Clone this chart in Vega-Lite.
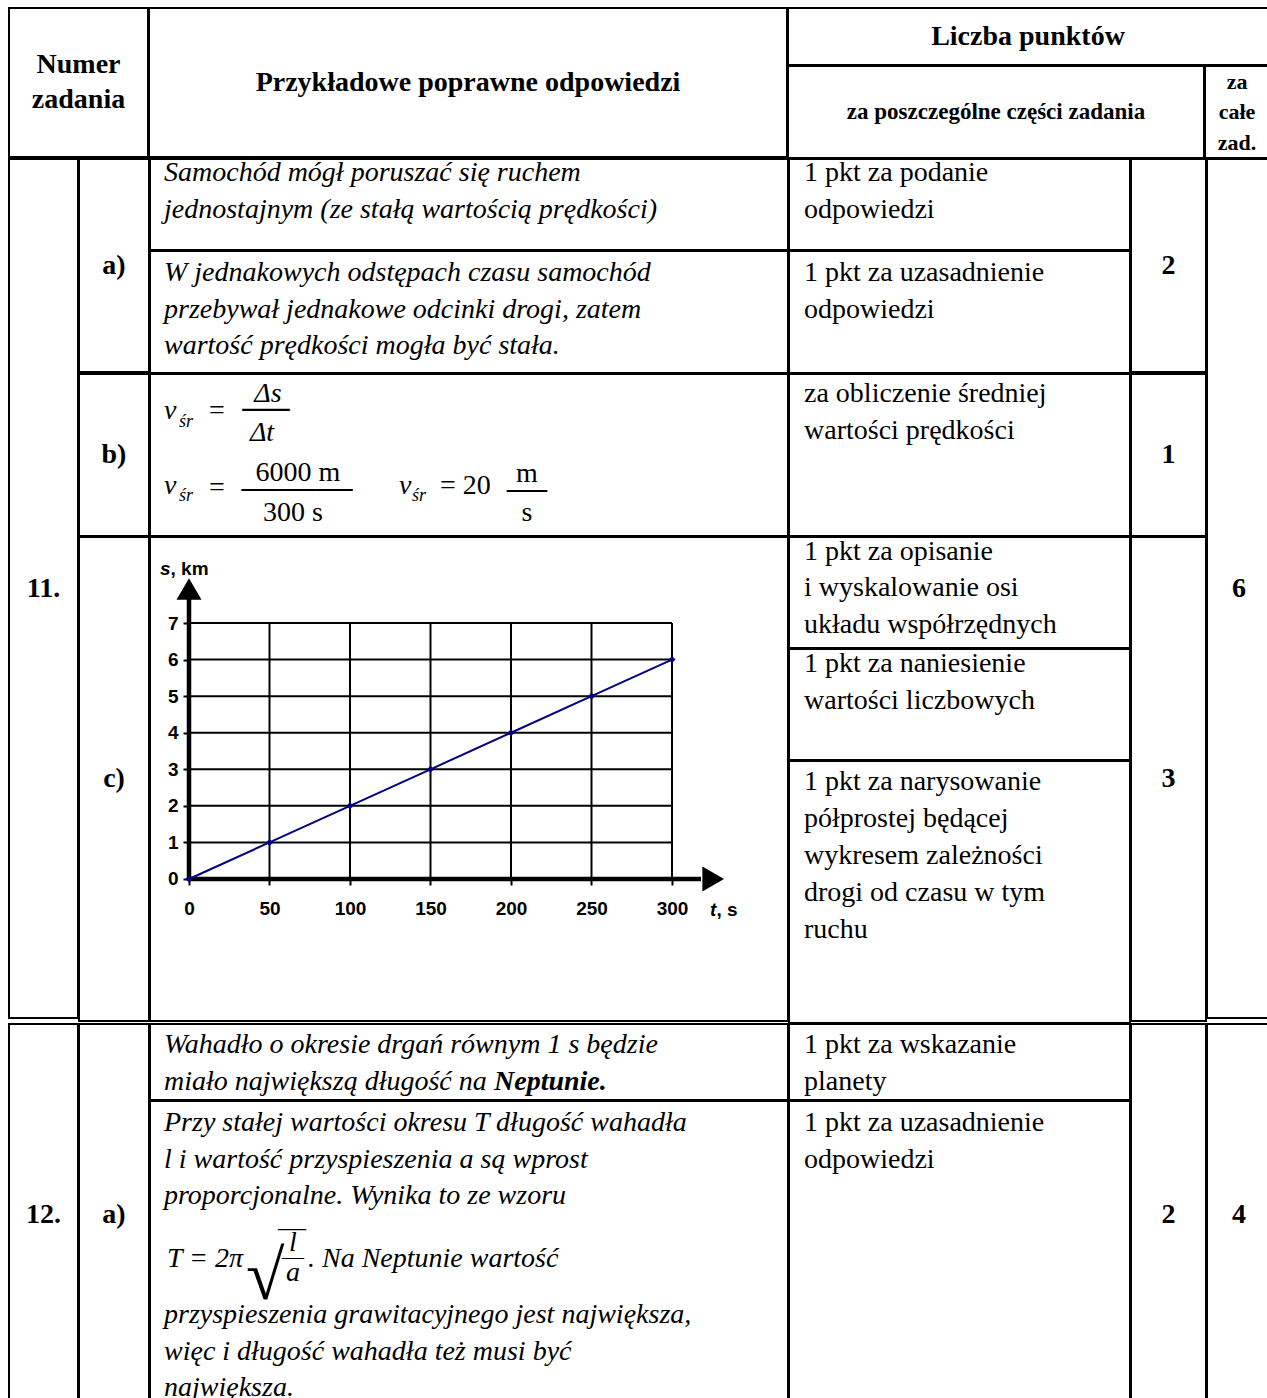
{
"$schema":"https://vega.github.io/schema/vega-lite/v6.json",
"padding":{"left":8,"top":7,"right":0,"bottom":0},
"background":"white",
"config":{
 "view":{"stroke":"black","strokeWidth":2},
 "style":{"view":{"stroke":"black","strokeWidth":2}},
 "concat":{"spacing":-2},
 "axis":{"domain":false,"grid":false,"tickSize":6,"tickWidth":2,"tickColor":"black","labelFont":"Liberation Sans","labelFontSize":19,"labelFontWeight":"bold","labelColor":"black"},
 "axisX":{"offset":-142,"labelPadding":14,"labelFlush":false},
 "axisY":{"offset":-39,"labelPadding":5},
 "text":{"font":"Liberation Serif","fontSize":28,"lineHeight":36.5,"lineBreak":"\n","color":"black"}
},
"datasets":{
 "cells":[
  {"id":"h_num","txt":"Numer\nzadania"},
  {"id":"h_ans","txt":"Przykładowe poprawne odpowiedzi"},
  {"id":"h_lp","txt":"Liczba punktów"},
  {"id":"h_zp","txt":"za poszczególne części zadania"},
  {"id":"h_zc","txt":"za\ncałe\nzad."},
  {"id":"n11","txt":"11."},
  {"id":"a11","txt":"a)"},
  {"id":"a1_ans","txt":"Samochód mógł poruszać się ruchem\njednostajnym (ze stałą wartością prędkości)"},
  {"id":"a1_pts","txt":"1 pkt za podanie\nodpowiedzi"},
  {"id":"a2_ans","txt":"W jednakowych odstępach czasu samochód\nprzebywał jednakowe odcinki drogi, zatem\nwartość prędkości mogła być stała."},
  {"id":"a2_pts","txt":"1 pkt za uzasadnienie\nodpowiedzi"},
  {"id":"p_a","txt":"2"},
  {"id":"b11","txt":"b)"},
  {"id":"b_pts","txt":"za obliczenie średniej\nwartości prędkości"},
  {"id":"p_b","txt":"1"},
  {"id":"c11","txt":"c)"},
  {"id":"c1_pts","txt":"1 pkt za opisanie\ni wyskalowanie osi\nukładu współrzędnych"},
  {"id":"c2_pts","txt":"1 pkt za naniesienie\nwartości liczbowych"},
  {"id":"c3_pts","txt":"1 pkt za narysowanie\npółprostej będącej\nwykresem zależności\ndrogi od czasu w tym\nruchu"},
  {"id":"p_c","txt":"3"},
  {"id":"p11","txt":"6"},
  {"id":"n12","txt":"12."},
  {"id":"a12","txt":"a)"},
  {"id":"d1_ans","txt":"Wahadło o okresie drgań równym 1 s będzie\nmiało największą długość na"},
  {"id":"d1_bold","txt":"Neptunie."},
  {"id":"d1_pts","txt":"1 pkt za wskazanie\nplanety"},
  {"id":"d2_ans1","txt":"Przy stałej wartości okresu T długość wahadła\nl i wartość przyspieszenia  a są wprost\nproporcjonalne. Wynika to ze wzoru"},
  {"id":"d2_ans2","txt":"przyspieszenia grawitacyjnego jest największa,\nwięc i długość wahadła też musi być\nnajwiększa."},
  {"id":"d2_pts","txt":"1 pkt za uzasadnienie\nodpowiedzi"},
  {"id":"p_d","txt":"2"},
  {"id":"p12","txt":"4"},
  {"id":"fb_v1","txt":"v"},
  {"id":"fb_sr1","txt":"śr"},
  {"id":"fb_eq1","txt":"="},
  {"id":"fb_ds","txt":"Δs"},
  {"id":"fb_bar1","txt":"—"},
  {"id":"fb_dt","txt":"Δt"},
  {"id":"fb_v2","txt":"v"},
  {"id":"fb_sr2","txt":"śr"},
  {"id":"fb_eq2","txt":"="},
  {"id":"fb_6000","txt":"6000 m"},
  {"id":"fb_bar2","txt":"———"},
  {"id":"fb_300","txt":"300 s"},
  {"id":"fb_v3","txt":"v"},
  {"id":"fb_sr3","txt":"śr"},
  {"id":"fb_eq3","txt":"= 20"},
  {"id":"fb_m","txt":"m"},
  {"id":"fb_bar3","txt":"—"},
  {"id":"fb_s","txt":"s"},
  {"id":"fd_T","txt":"T = 2π"},
  {"id":"fd_root","txt":"√"},
  {"id":"fd_over","txt":"—"},
  {"id":"fd_l","txt":"l"},
  {"id":"fd_bar","txt":"—"},
  {"id":"fd_a","txt":"a"},
  {"id":"fd_rest","txt":". Na Neptunie wartość"},
  {"id":"g_s","txt":"s"},
  {"id":"g_km","txt":", km"},
  {"id":"g_t","txt":"t"},
  {"id":"g_ts","txt":", s"}
 ],
 "pts":[{"t":0,"s":0},{"t":50,"s":1},{"t":100,"s":2},{"t":150,"s":3},{"t":200,"s":4},{"t":250,"s":5},{"t":300,"s":6}],
 "vgrid":[{"t":50},{"t":100},{"t":150},{"t":200},{"t":250},{"t":300}],
 "hgrid":[{"s":1},{"s":2},{"s":3},{"s":4},{"s":5},{"s":6},{"s":7}]
},
"spacing":-2,
"vconcat":[
 {"spacing":-2,"hconcat":[
  {"width":139,"height":149,"data":{"name":"cells"},"transform":[{"filter":"datum.id==='h_num'"}],"mark":{"type":"text","fontWeight":"bold","align":"center","baseline":"middle","lineHeight":35,"dy":-17.5},"encoding":{"text":{"field":"txt","type":"nominal"}}},
  {"width":638,"height":149,"data":{"name":"cells"},"transform":[{"filter":"datum.id==='h_ans'"}],"mark":{"type":"text","fontWeight":"bold","align":"center","baseline":"middle"},"encoding":{"text":{"field":"txt","type":"nominal"}}},
  {"spacing":-2,"vconcat":[
   {"width":480,"height":57,"data":{"name":"cells"},"transform":[{"filter":"datum.id==='h_lp'"}],"mark":{"type":"text","fontWeight":"bold","align":"center","baseline":"middle"},"encoding":{"text":{"field":"txt","type":"nominal"}}},
   {"spacing":-2,"hconcat":[
    {"width":416,"height":92,"data":{"name":"cells"},"transform":[{"filter":"datum.id==='h_zp'"}],"mark":{"type":"text","fontWeight":"bold","fontSize":23,"align":"center","baseline":"middle"},"encoding":{"text":{"field":"txt","type":"nominal"}}},
    {"width":64,"height":92,"data":{"name":"cells"},"transform":[{"filter":"datum.id==='h_zc'"}],"mark":{"type":"text","fontWeight":"bold","fontSize":22,"lineHeight":30.5,"align":"center","baseline":"middle","dy":-30.5},"encoding":{"text":{"field":"txt","type":"nominal"}}}
   ]}
  ]}
 ]},
 {"spacing":-2,"hconcat":[
  {"width":69,"height":859,"data":{"name":"cells"},"transform":[{"filter":"datum.id==='n11'"}],"mark":{"type":"text","fontWeight":"bold","align":"center","baseline":"middle"},"encoding":{"text":{"field":"txt","type":"nominal"}}},
  {"spacing":-2,"vconcat":[
   {"spacing":-2,"hconcat":[
    {"width":70,"height":213,"data":{"name":"cells"},"transform":[{"filter":"datum.id==='a11'"}],"mark":{"type":"text","fontWeight":"bold","align":"center","baseline":"middle"},"encoding":{"text":{"field":"txt","type":"nominal"}}},
    {"spacing":-2,"vconcat":[
     {"spacing":-2,"hconcat":[
      {"width":638,"height":91,"data":{"name":"cells"},"transform":[{"filter":"datum.id==='a1_ans'"}],"mark":{"type":"text","fontStyle":"italic","align":"left","baseline":"alphabetic","dx":-305,"dy":-23.5},"encoding":{"text":{"field":"txt","type":"nominal"}}},
      {"width":341,"height":91,"data":{"name":"cells"},"transform":[{"filter":"datum.id==='a1_pts'"}],"mark":{"type":"text","align":"left","baseline":"alphabetic","dx":-155.5,"dy":-23.5},"encoding":{"text":{"field":"txt","type":"nominal"}}}
     ]},
     {"spacing":-2,"hconcat":[
      {"width":638,"height":122,"data":{"name":"cells"},"transform":[{"filter":"datum.id==='a2_ans'"}],"mark":{"type":"text","fontStyle":"italic","align":"left","baseline":"alphabetic","dx":-305,"dy":-31},"encoding":{"text":{"field":"txt","type":"nominal"}}},
      {"width":341,"height":122,"data":{"name":"cells"},"transform":[{"filter":"datum.id==='a2_pts'"}],"mark":{"type":"text","align":"left","baseline":"alphabetic","dx":-155.5,"dy":-31},"encoding":{"text":{"field":"txt","type":"nominal"}}}
     ]}
    ]},
    {"width":75,"height":213,"data":{"name":"cells"},"transform":[{"filter":"datum.id==='p_a'"}],"mark":{"type":"text","fontWeight":"bold","align":"center","baseline":"middle"},"encoding":{"text":{"field":"txt","type":"nominal"}}}
   ]},
   {"spacing":-2,"hconcat":[
    {"width":70,"height":162,"data":{"name":"cells"},"transform":[{"filter":"datum.id==='b11'"}],"mark":{"type":"text","fontWeight":"bold","align":"center","baseline":"middle"},"encoding":{"text":{"field":"txt","type":"nominal"}}},
    {"width":638,"height":162,"data":{"name":"cells"},"layer":[
     {"transform":[{"filter":"datum.id==='fb_v1'"}],"mark":{"type":"text","fontStyle":"italic","align":"left","baseline":"alphabetic","dx":-305,"dy":-36},"encoding":{"text":{"field":"txt","type":"nominal"}}},
     {"transform":[{"filter":"datum.id==='fb_sr1'"}],"mark":{"type":"text","fontStyle":"italic","fontSize":18,"align":"left","baseline":"alphabetic","dx":-290,"dy":-28},"encoding":{"text":{"field":"txt","type":"nominal"}}},
     {"transform":[{"filter":"datum.id==='fb_eq1'"}],"mark":{"type":"text","align":"center","baseline":"alphabetic","dx":-252,"dy":-36},"encoding":{"text":{"field":"txt","type":"nominal"}}},
     {"transform":[{"filter":"datum.id==='fb_ds'"}],"mark":{"type":"text","fontStyle":"italic","align":"center","baseline":"alphabetic","dx":-201,"dy":-53},"encoding":{"text":{"field":"txt","type":"nominal"}}},
     {"transform":[{"filter":"datum.id==='fb_bar1'"}],"mark":{"type":"text","fontSize":47,"align":"center","baseline":"alphabetic","dx":-203,"dy":-34},"encoding":{"text":{"field":"txt","type":"nominal"}}},
     {"transform":[{"filter":"datum.id==='fb_dt'"}],"mark":{"type":"text","fontStyle":"italic","align":"center","baseline":"alphabetic","dx":-207,"dy":-14},"encoding":{"text":{"field":"txt","type":"nominal"}}},
     {"transform":[{"filter":"datum.id==='fb_v2'"}],"mark":{"type":"text","fontStyle":"italic","align":"left","baseline":"alphabetic","dx":-305,"dy":39},"encoding":{"text":{"field":"txt","type":"nominal"}}},
     {"transform":[{"filter":"datum.id==='fb_sr2'"}],"mark":{"type":"text","fontStyle":"italic","fontSize":18,"align":"left","baseline":"alphabetic","dx":-290,"dy":46},"encoding":{"text":{"field":"txt","type":"nominal"}}},
     {"transform":[{"filter":"datum.id==='fb_eq2'"}],"mark":{"type":"text","align":"center","baseline":"alphabetic","dx":-252,"dy":41},"encoding":{"text":{"field":"txt","type":"nominal"}}},
     {"transform":[{"filter":"datum.id==='fb_6000'"}],"mark":{"type":"text","align":"center","baseline":"alphabetic","dx":-171,"dy":26},"encoding":{"text":{"field":"txt","type":"nominal"}}},
     {"transform":[{"filter":"datum.id==='fb_bar2'"}],"mark":{"type":"text","fontSize":37,"align":"center","baseline":"alphabetic","dx":-172,"dy":44},"encoding":{"text":{"field":"txt","type":"nominal"}}},
     {"transform":[{"filter":"datum.id==='fb_300'"}],"mark":{"type":"text","align":"center","baseline":"alphabetic","dx":-176,"dy":66},"encoding":{"text":{"field":"txt","type":"nominal"}}},
     {"transform":[{"filter":"datum.id==='fb_v3'"}],"mark":{"type":"text","fontStyle":"italic","align":"left","baseline":"alphabetic","dx":-70,"dy":39},"encoding":{"text":{"field":"txt","type":"nominal"}}},
     {"transform":[{"filter":"datum.id==='fb_sr3'"}],"mark":{"type":"text","fontStyle":"italic","fontSize":18,"align":"left","baseline":"alphabetic","dx":-57,"dy":46},"encoding":{"text":{"field":"txt","type":"nominal"}}},
     {"transform":[{"filter":"datum.id==='fb_eq3'"}],"mark":{"type":"text","align":"left","baseline":"alphabetic","dx":-29,"dy":39},"encoding":{"text":{"field":"txt","type":"nominal"}}},
     {"transform":[{"filter":"datum.id==='fb_m'"}],"mark":{"type":"text","align":"center","baseline":"alphabetic","dx":58,"dy":27},"encoding":{"text":{"field":"txt","type":"nominal"}}},
     {"transform":[{"filter":"datum.id==='fb_bar3'"}],"mark":{"type":"text","fontSize":40,"align":"center","baseline":"alphabetic","dx":58,"dy":45},"encoding":{"text":{"field":"txt","type":"nominal"}}},
     {"transform":[{"filter":"datum.id==='fb_s'"}],"mark":{"type":"text","align":"center","baseline":"alphabetic","dx":58,"dy":66},"encoding":{"text":{"field":"txt","type":"nominal"}}}
    ]},
    {"width":341,"height":162,"data":{"name":"cells"},"transform":[{"filter":"datum.id==='b_pts'"}],"mark":{"type":"text","align":"left","baseline":"alphabetic","dx":-155.5,"dy":-53},"encoding":{"text":{"field":"txt","type":"nominal"}}},
    {"width":75,"height":162,"data":{"name":"cells"},"transform":[{"filter":"datum.id==='p_b'"}],"mark":{"type":"text","fontWeight":"bold","align":"center","baseline":"middle"},"encoding":{"text":{"field":"txt","type":"nominal"}}}
   ]},
   {"spacing":-2,"hconcat":[
    {"width":70,"height":484,"data":{"name":"cells"},"transform":[{"filter":"datum.id==='c11'"}],"mark":{"type":"text","fontWeight":"bold","align":"center","baseline":"middle"},"encoding":{"text":{"field":"txt","type":"nominal"}}},
    {"width":638,"height":484,"layer":[
     {"data":{"name":"vgrid"},"mark":{"type":"rule","color":"black","strokeWidth":2},"encoding":{
       "x":{"field":"t","type":"quantitative","scale":{"domain":[-24.22,372.05],"nice":false,"zero":false},"axis":{"title":null,"values":[0,50,100,150,200,250,300]}},
       "y":{"datum":0,"type":"quantitative","scale":{"domain":[-3.883,9.352],"nice":false,"zero":false},"axis":{"title":null,"values":[0,1,2,3,4,5,6,7]}},
       "y2":{"datum":7}}},
     {"data":{"name":"hgrid"},"mark":{"type":"rule","color":"black","strokeWidth":2},"encoding":{
       "y":{"field":"s","type":"quantitative","scale":{"domain":[-3.883,9.352],"nice":false,"zero":false},"axis":{"title":null,"values":[0,1,2,3,4,5,6,7]}},
       "x":{"datum":0,"type":"quantitative","scale":{"domain":[-24.22,372.05],"nice":false,"zero":false},"axis":{"title":null,"values":[0,50,100,150,200,250,300]}},
       "x2":{"datum":300}}},
     {"data":{"name":"pts"},"transform":[{"filter":"datum.t===0"}],"mark":{"type":"rule","color":"black","strokeWidth":4.5},"encoding":{
       "x":{"field":"t","type":"quantitative","scale":{"domain":[-24.22,372.05],"nice":false,"zero":false},"axis":{"title":null,"values":[0,50,100,150,200,250,300]}},
       "x2":{"datum":318},
       "y":{"field":"s","type":"quantitative","scale":{"domain":[-3.883,9.352],"nice":false,"zero":false},"axis":{"title":null,"values":[0,1,2,3,4,5,6,7]}}}},
     {"data":{"name":"pts"},"transform":[{"filter":"datum.t===0"}],"mark":{"type":"rule","color":"black","strokeWidth":4.5},"encoding":{
       "x":{"field":"t","type":"quantitative","scale":{"domain":[-24.22,372.05],"nice":false,"zero":false},"axis":{"title":null,"values":[0,50,100,150,200,250,300]}},
       "y":{"field":"s","type":"quantitative","scale":{"domain":[-3.883,9.352],"nice":false,"zero":false},"axis":{"title":null,"values":[0,1,2,3,4,5,6,7]}},
       "y2":{"datum":7.7}}},
     {"data":{"name":"pts"},"transform":[{"filter":"datum.t===0"}],"mark":{"type":"point","shape":"triangle-right","size":625,"filled":true,"color":"black","opacity":1,"strokeWidth":0},"encoding":{
       "x":{"datum":325.6,"type":"quantitative","scale":{"domain":[-24.22,372.05],"nice":false,"zero":false},"axis":{"title":null,"values":[0,50,100,150,200,250,300]}},
       "y":{"field":"s","type":"quantitative","scale":{"domain":[-3.883,9.352],"nice":false,"zero":false},"axis":{"title":null,"values":[0,1,2,3,4,5,6,7]}}}},
     {"data":{"name":"pts"},"transform":[{"filter":"datum.t===0"}],"mark":{"type":"point","shape":"triangle-up","size":625,"filled":true,"color":"black","opacity":1,"strokeWidth":0},"encoding":{
       "x":{"field":"t","type":"quantitative","scale":{"domain":[-24.22,372.05],"nice":false,"zero":false},"axis":{"title":null,"values":[0,50,100,150,200,250,300]}},
       "y":{"datum":7.93,"type":"quantitative","scale":{"domain":[-3.883,9.352],"nice":false,"zero":false},"axis":{"title":null,"values":[0,1,2,3,4,5,6,7]}}}},
     {"data":{"name":"pts"},"mark":{"type":"line","color":"#000080","strokeWidth":2},"encoding":{
       "x":{"field":"t","type":"quantitative","scale":{"domain":[-24.22,372.05],"nice":false,"zero":false},"axis":{"title":null,"values":[0,50,100,150,200,250,300]}},
       "y":{"field":"s","type":"quantitative","scale":{"domain":[-3.883,9.352],"nice":false,"zero":false},"axis":{"title":null,"values":[0,1,2,3,4,5,6,7]}}}},
     {"data":{"name":"pts"},"mark":{"type":"point","shape":"diamond","size":50,"filled":true,"color":"#000080","opacity":1},"encoding":{
       "x":{"field":"t","type":"quantitative","scale":{"domain":[-24.22,372.05],"nice":false,"zero":false},"axis":{"title":null,"values":[0,50,100,150,200,250,300]}},
       "y":{"field":"s","type":"quantitative","scale":{"domain":[-3.883,9.352],"nice":false,"zero":false},"axis":{"title":null,"values":[0,1,2,3,4,5,6,7]}}}},
     {"data":{"name":"cells"},"transform":[{"filter":"datum.id==='g_s'"}],"mark":{"type":"text","font":"Liberation Sans","fontSize":19,"fontWeight":"bold","fontStyle":"italic","align":"left","baseline":"middle"},"encoding":{
       "x":{"datum":-18,"type":"quantitative","scale":{"domain":[-24.22,372.05],"nice":false,"zero":false},"axis":{"title":null,"values":[0,50,100,150,200,250,300]}},
       "y":{"datum":8.48,"type":"quantitative","scale":{"domain":[-3.883,9.352],"nice":false,"zero":false},"axis":{"title":null,"values":[0,1,2,3,4,5,6,7]}},
       "text":{"field":"txt","type":"nominal"}}},
     {"data":{"name":"cells"},"transform":[{"filter":"datum.id==='g_km'"}],"mark":{"type":"text","font":"Liberation Sans","fontSize":19,"fontWeight":"bold","align":"left","baseline":"middle","dx":10.5},"encoding":{
       "x":{"datum":-18,"type":"quantitative","scale":{"domain":[-24.22,372.05],"nice":false,"zero":false},"axis":{"title":null,"values":[0,50,100,150,200,250,300]}},
       "y":{"datum":8.48,"type":"quantitative","scale":{"domain":[-3.883,9.352],"nice":false,"zero":false},"axis":{"title":null,"values":[0,1,2,3,4,5,6,7]}},
       "text":{"field":"txt","type":"nominal"}}},
     {"data":{"name":"cells"},"transform":[{"filter":"datum.id==='g_t'"}],"mark":{"type":"text","font":"Liberation Sans","fontSize":19,"fontWeight":"bold","fontStyle":"italic","align":"left","baseline":"middle"},"encoding":{
       "x":{"datum":323.6,"type":"quantitative","scale":{"domain":[-24.22,372.05],"nice":false,"zero":false},"axis":{"title":null,"values":[0,50,100,150,200,250,300]}},
       "y":{"datum":-0.848,"type":"quantitative","scale":{"domain":[-3.883,9.352],"nice":false,"zero":false},"axis":{"title":null,"values":[0,1,2,3,4,5,6,7]}},
       "text":{"field":"txt","type":"nominal"}}},
     {"data":{"name":"cells"},"transform":[{"filter":"datum.id==='g_ts'"}],"mark":{"type":"text","font":"Liberation Sans","fontSize":19,"fontWeight":"bold","align":"left","baseline":"middle","dx":6.5},"encoding":{
       "x":{"datum":323.6,"type":"quantitative","scale":{"domain":[-24.22,372.05],"nice":false,"zero":false},"axis":{"title":null,"values":[0,50,100,150,200,250,300]}},
       "y":{"datum":-0.848,"type":"quantitative","scale":{"domain":[-3.883,9.352],"nice":false,"zero":false},"axis":{"title":null,"values":[0,1,2,3,4,5,6,7]}},
       "text":{"field":"txt","type":"nominal"}}}
    ]},
    {"spacing":-2,"vconcat":[
     {"width":341,"height":111,"data":{"name":"cells"},"transform":[{"filter":"datum.id==='c1_pts'"}],"mark":{"type":"text","align":"left","baseline":"alphabetic","dx":-155.5,"dy":-33},"encoding":{"text":{"field":"txt","type":"nominal"}}},
     {"width":341,"height":111,"data":{"name":"cells"},"transform":[{"filter":"datum.id==='c2_pts'"}],"mark":{"type":"text","align":"left","baseline":"alphabetic","dx":-155.5,"dy":-32.5},"encoding":{"text":{"field":"txt","type":"nominal"}}},
     {"width":341,"height":262,"data":{"name":"cells"},"transform":[{"filter":"datum.id==='c3_pts'"}],"mark":{"type":"text","align":"left","baseline":"alphabetic","dx":-155.5,"dy":-102,"lineHeight":37},"encoding":{"text":{"field":"txt","type":"nominal"}}}
    ]},
    {"width":75,"height":484,"data":{"name":"cells"},"transform":[{"filter":"datum.id==='p_c'"}],"mark":{"type":"text","fontWeight":"bold","align":"center","baseline":"middle"},"encoding":{"text":{"field":"txt","type":"nominal"}}}
   ]}
  ]},
  {"width":64,"height":859,"data":{"name":"cells"},"transform":[{"filter":"datum.id==='p11'"}],"mark":{"type":"text","fontWeight":"bold","align":"center","baseline":"middle"},"encoding":{"text":{"field":"txt","type":"nominal"}}}
 ]},
 {"spacing":-2,"hconcat":[
  {"width":69,"height":381,"data":{"name":"cells"},"transform":[{"filter":"datum.id==='n12'"}],"mark":{"type":"text","fontWeight":"bold","align":"center","baseline":"middle"},"encoding":{"text":{"field":"txt","type":"nominal"}}},
  {"width":70,"height":381,"data":{"name":"cells"},"transform":[{"filter":"datum.id==='a12'"}],"mark":{"type":"text","fontWeight":"bold","align":"center","baseline":"middle"},"encoding":{"text":{"field":"txt","type":"nominal"}}},
  {"spacing":-2,"vconcat":[
   {"spacing":-2,"hconcat":[
    {"width":638,"height":76,"data":{"name":"cells"},"layer":[
     {"transform":[{"filter":"datum.id==='d1_ans'"}],"mark":{"type":"text","fontStyle":"italic","align":"left","baseline":"alphabetic","dx":-305,"dy":-9},"encoding":{"text":{"field":"txt","type":"nominal"}}},
     {"transform":[{"filter":"datum.id==='d1_bold'"}],"mark":{"type":"text","fontStyle":"italic","fontWeight":"bold","align":"left","baseline":"alphabetic","dx":25,"dy":27.5},"encoding":{"text":{"field":"txt","type":"nominal"}}}
    ]},
    {"width":341,"height":76,"data":{"name":"cells"},"transform":[{"filter":"datum.id==='d1_pts'"}],"mark":{"type":"text","align":"left","baseline":"alphabetic","dx":-155.5,"dy":-9},"encoding":{"text":{"field":"txt","type":"nominal"}}}
   ]},
   {"spacing":-2,"hconcat":[
    {"width":638,"height":305,"data":{"name":"cells"},"layer":[
     {"transform":[{"filter":"datum.id==='d2_ans1'"}],"mark":{"type":"text","fontStyle":"italic","align":"left","baseline":"alphabetic","dx":-305,"dy":-122.5},"encoding":{"text":{"field":"txt","type":"nominal"}}},
     {"transform":[{"filter":"datum.id==='d2_ans2'"}],"mark":{"type":"text","fontStyle":"italic","align":"left","baseline":"alphabetic","dx":-305,"dy":69.5},"encoding":{"text":{"field":"txt","type":"nominal"}}},
     {"transform":[{"filter":"datum.id==='fd_T'"}],"mark":{"type":"text","fontStyle":"italic","align":"left","baseline":"alphabetic","dx":-302,"dy":13.5},"encoding":{"text":{"field":"txt","type":"nominal"}}},
     {"transform":[{"filter":"datum.id==='fd_root'"}],"mark":{"type":"text","fontSize":70,"align":"left","baseline":"alphabetic","dx":-223,"dy":45.5},"encoding":{"text":{"field":"txt","type":"nominal"}}},
     {"transform":[{"filter":"datum.id==='fd_over'"}],"mark":{"type":"text","fontSize":28,"align":"left","baseline":"alphabetic","dx":-191,"dy":-17.5},"encoding":{"text":{"field":"txt","type":"nominal"}}},
     {"transform":[{"filter":"datum.id==='fd_l'"}],"mark":{"type":"text","fontStyle":"italic","align":"center","baseline":"alphabetic","dx":-176,"dy":-2.5},"encoding":{"text":{"field":"txt","type":"nominal"}}},
     {"transform":[{"filter":"datum.id==='fd_bar'"}],"mark":{"type":"text","fontSize":22,"align":"center","baseline":"alphabetic","dx":-176,"dy":10},"encoding":{"text":{"field":"txt","type":"nominal"}}},
     {"transform":[{"filter":"datum.id==='fd_a'"}],"mark":{"type":"text","fontStyle":"italic","align":"center","baseline":"alphabetic","dx":-176,"dy":27.5},"encoding":{"text":{"field":"txt","type":"nominal"}}},
     {"transform":[{"filter":"datum.id==='fd_rest'"}],"mark":{"type":"text","fontStyle":"italic","align":"left","baseline":"alphabetic","dx":-161,"dy":13.5},"encoding":{"text":{"field":"txt","type":"nominal"}}}
    ]},
    {"width":341,"height":305,"data":{"name":"cells"},"transform":[{"filter":"datum.id==='d2_pts'"}],"mark":{"type":"text","align":"left","baseline":"alphabetic","dx":-155.5,"dy":-122.5},"encoding":{"text":{"field":"txt","type":"nominal"}}}
   ]}
  ]},
  {"width":75,"height":381,"data":{"name":"cells"},"transform":[{"filter":"datum.id==='p_d'"}],"mark":{"type":"text","fontWeight":"bold","align":"center","baseline":"middle"},"encoding":{"text":{"field":"txt","type":"nominal"}}},
  {"width":64,"height":381,"data":{"name":"cells"},"transform":[{"filter":"datum.id==='p12'"}],"mark":{"type":"text","fontWeight":"bold","align":"center","baseline":"middle"},"encoding":{"text":{"field":"txt","type":"nominal"}}}
 ]}
]
}
